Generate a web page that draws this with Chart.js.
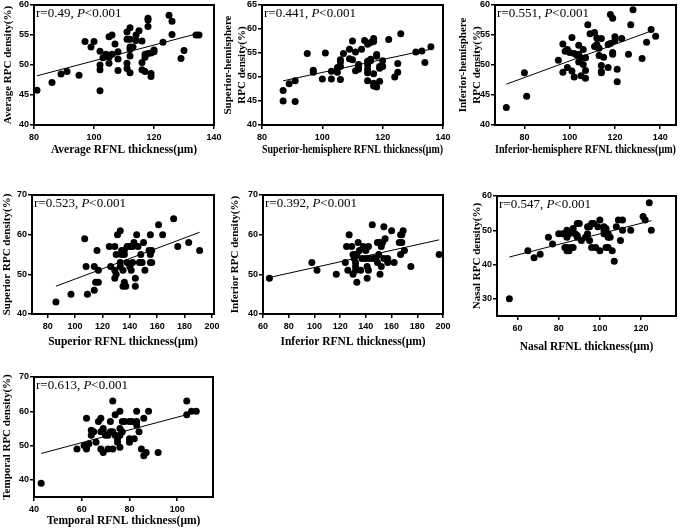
<!DOCTYPE html>
<html>
<head>
<meta charset="utf-8">
<script src="https://cdn.jsdelivr.net/npm/chart.js@4"></script>
<style>
  body { margin: 0; background: #fff; width: 685px; height: 529px; position: relative; overflow: hidden; }
  canvas { position: absolute; }
</style>
</head>
<body>
<script>
// ---- data: [thickness, density] ----
const avgPts = [[81,45.8],[86,47.1],[89,48.5],[91,48.9],[95,48.3],[97,53.9],[99,53.0],[100,53.9],[102,52.3],[102,50.0],[102,49.2],[102,45.7],[103,51.2],[104,51.8],[105,54.7],[105,51.3],[105,50.3],[106,55.0],[106,51.8],[107,53.5],[108,52.2],[108,51.0],[108,49.1],[111,55.5],[111,54.3],[111,50.3],[111,49.4],[112,56.2],[112,54.3],[112,53.0],[112,52.6],[112,51.5],[112,48.7],[113,53.0],[114,55.0],[114,54.1],[115,55.7],[116,54.0],[116,50.4],[116,49.2],[117,51.8],[117,51.3],[117,48.9],[118,57.8],[118,57.5],[118,56.4],[118,51.9],[119,52.0],[119,48.6],[119,48.1],[120,52.5],[120,52.2],[123,53.8],[125,58.3],[126,57.3],[126,55.1],[129,51.1],[130,52.4],[134,55.0],[135,55.0]];
const avgFit = [[81,48.2],[135,55.3]];

const supHemiPts = [[87,47.2],[87,45.0],[89,48.6],[91,49.2],[91,44.9],[95,54.9],[97,51.4],[97,51.0],[100,49.6],[101,55.0],[103,51.2],[103,49.6],[105,51.0],[105,52.0],[106,53.6],[106,53.1],[106,52.2],[106,49.5],[107,54.9],[109,55.8],[109,53.8],[110,57.5],[110,53.6],[111,55.2],[111,51.3],[112,52.6],[112,52.0],[112,51.6],[113,55.8],[114,57.6],[115,56.8],[115,53.3],[115,52.5],[115,51.6],[115,50.9],[115,49.2],[116,57.2],[116,53.7],[116,53.4],[117,58.0],[117,57.4],[117,50.7],[117,48.7],[117,48.1],[118,54.7],[118,54.3],[118,47.9],[119,52.2],[119,51.8],[119,49.1],[120,53.4],[120,52.2],[122,57.8],[124,50.0],[125,52.8],[125,51.0],[126,59.0],[131,55.2],[133,55.4],[134,53.0],[136,56.3]];
const supHemiFit = [[87,49.2],[136,55.8]];

const infHemiPts = [[72,42.9],[80,48.7],[81,44.8],[95,50.8],[97,53.5],[97,48.8],[98,52.3],[99,52.6],[99,49.6],[100,52.1],[101,54.6],[101,49.0],[102,51.9],[102,48.0],[103,51.7],[104,53.3],[104,51.8],[104,50.5],[105,51.2],[105,48.2],[106,52.6],[106,50.1],[107,51.2],[107,49.1],[107,47.8],[108,56.7],[109,55.2],[111,55.4],[111,53.1],[112,54.5],[112,53.4],[112,53.0],[113,51.6],[113,52.8],[114,54.4],[114,49.9],[114,48.9],[114,48.7],[115,51.3],[117,53.4],[117,49.6],[118,58.4],[118,53.6],[119,57.8],[119,52.1],[119,51.8],[120,54.7],[120,54.1],[121,49.3],[121,47.2],[123,54.4],[126,51.8],[127,56.7],[128,59.2],[132,51.1],[134,53.8],[136,55.9],[138,54.8]];
const infHemiFit = [[72,46.8],[137,55.8]];

const supPts = [[86,43],[97,45],[107,59],[108,52],[109,45],[114,46],[114,52],[115,48],[116,56],[117,51],[117,48],[125,57],[126,52],[129,57],[129,51],[129,49],[130,55],[130,50],[131,60],[133,61],[133,53],[133,52],[134,56],[134,55],[135,51],[135,47],[136,56],[136,55],[136,48],[137,47],[138,53],[138,57],[140,57],[140,52],[141,51],[142,53],[142,57],[143,58],[144,49],[144,47],[145,60],[146,57],[147,53],[148,55],[149,53],[150,58],[151,51],[154,56],[155,60],[155,55],[155,53],[156,53],[156,56],[161,62.5],[164,60],[172,64],[175,57],[183,58],[191,56]];
const supFit = [[86,47],[191,60.6]];

const infPts = [[65,49],[98,53],[102,51],[117,50],[124,53],[125,57],[126,51],[127,60],[129,57],[130,55],[130,50],[131,54],[132,55],[132,53],[132,52],[132,51],[133,48],[133,55],[134,58],[135,56],[136,51],[137,54],[138,57],[140,56],[140,54],[141,49],[141,52],[142,57],[142,51],[143,54],[145,62.5],[146,54],[148,54],[149,58],[149,53],[150,55],[151,58],[151,50],[152,57],[152,52],[153,58],[154,62],[154,54],[155,59],[157,53],[157,54],[160,61],[162,53],[166,58],[167,60],[167,55],[168,60],[168,58],[169,61],[170,56],[175,52],[197,55]];
const infFit = [[65,49.2],[197,58.7]];

const nasPts = [[56,30],[65,44],[68,42],[71,43],[75,48],[77,46],[80,49],[82,49],[83,45],[84,50],[84,48],[84,45],[84,44],[85,44],[85,49],[86,45],[87,50.5],[87,45],[88,49],[89,52],[89,48.5],[89,48],[90,52],[91,47],[93,48],[94,51],[94,49],[95,47],[95,51],[96,52],[96,45],[97,52],[98,45],[99,51],[100,53],[100,44],[102,51],[102,50],[102,49],[103,50.5],[103,45],[104,48],[104,45],[104,49],[105,48],[106,44],[107,41],[108,51],[109,53],[110,47],[111,53],[111,50],[115,50],[121,54],[122,53],[124,58],[125,50]];
const nasFit = [[56,42.2],[125,52.8]];

const tempPts = [[43,39],[58,49],[61,50],[62,58],[62,49.5],[62,49],[63,50.5],[64,54.5],[64,53],[65,54],[66,51],[67,57],[68,58],[68,54],[68,49],[69,55],[69,48],[69,54],[70,53],[71,49],[71,53],[72,54],[72,57],[73,63],[73,54],[73,49],[74,59],[74,53],[75,52],[75,51],[76,60],[76,55],[76,53],[76,49.5],[77,57],[77,54],[78,57],[80,57],[80,52],[80,51],[81,57],[82,52],[83,60],[83,57],[83,56],[84,54],[85,49],[86,58],[86,47],[87,48],[88,60],[92,48],[104,63],[104,59],[106,60],[108,60]];
const tempFit = [[43,47.7],[105,59.2]];

const rValues = ['0.49', '0.441', '0.551', '0.523', '0.392', '0.547', '0.613'];

const xTicks = [[80,100,120,140],[80,100,120,140],[80,100,120,140],[80,100,120,140,160,180,200],[60,80,100,120,140,160,180,200],[60,80,100,120],[40,60,80,100]];
const yTicks = [[40,45,50,55,60],[40,45,50,55,60,65],[40,45,50,55,60],[40,50,60,70],[40,50,60,70],[30,40,50,60],[40,50,60,70]];

// ---- layout of the seven panels ----
const panels = [
  { pts: avgPts, fit: avgFit, x: [80,140], y: [40,60], area: [34,5,214,125], yTitleX: 8, xTitleY: 150,
    xTitle: 'Average RFNL thickness(μm)', yTitle: 'Average RPC density(%)' },
  { pts: supHemiPts, fit: supHemiFit, x: [80,140], y: [40,65], area: [262,5,443,125], yTitleX: 228, xTitleY: 150,
    xTitle: 'Superior-hemisphere RFNL thickness(μm)', yTitle: ['Superior-hemisphere', 'RPC density(%)'] },
  { pts: infHemiPts, fit: infHemiFit, x: [67,147], y: [40,60], area: [495,5,676,125], yTitleX: 463, xTitleY: 150,
    xTitle: 'Inferior-hemisphere RFNL thickness(μm)', yTitle: ['Inferior-hemisphere', 'RPC density(%)'] },
  { pts: supPts, fit: supFit, x: [68.5,201.5], y: [40,70], area: [32,195,214,314], yTitleX: 7, xTitleY: 342,
    xTitle: 'Superior RFNL thickness(μm)', yTitle: 'Superior RPC density(%)' },
  { pts: infPts, fit: infFit, x: [60,200], y: [40,70], area: [263,195,443,314], yTitleX: 235, xTitleY: 342,
    xTitle: 'Inferior RFNL thickness(μm)', yTitle: 'Inferior RPC density(%)' },
  { pts: nasPts, fit: nasFit, x: [50,137], y: [25,60], area: [497,196,676,316], yTitleX: 477, xTitleY: 347,
    xTitle: 'Nasal RFNL thickness(μm)', yTitle: 'Nasal RPC density(%)' },
  { pts: tempPts, fit: tempFit, x: [40,115], y: [35,70], area: [34,377,213,497], yTitleX: 7, xTitleY: 521,
    xTitle: 'Temporal RFNL thickness(μm)', yTitle: 'Temporal RPC density(%)' }
];

const frame = {
  id: 'frame',
  afterDraw(chart, args, opts) {
    const { ctx, chartArea: a } = chart;
    ctx.save();
    ctx.strokeStyle = '#000';
    ctx.lineWidth = 2;
    ctx.strokeRect(a.left, a.top, a.right - a.left, a.bottom - a.top);
    // r / P annotation
    ctx.fillStyle = '#000';
    ctx.textBaseline = 'alphabetic';
    let x = a.left + 2;
    const y = a.top + 11.5;
    const parts = [['r=' + opts.r + ', ', ''], ['P', 'italic '], ['<0.001', '']];
    parts.forEach(([txt, style]) => {
      ctx.font = style + '13px "Liberation Serif"';
      ctx.fillText(txt, x, y);
      x += ctx.measureText(txt).width;
    });
    ctx.restore();
  }
};

const tickFont = { family: '"Liberation Sans"', size: 9, weight: 'bold' };

panels.forEach((p, i) => {
  const [l, t, r, b] = p.area;
  const left = p.yTitleX - 7;
  const top = t - 8;
  const width = r + 12 - left;
  const height = p.xTitleY + 7 - top;
  const yW = l - left;
  const xH = p.xTitleY + 7 - b;

  const canvas = document.createElement('canvas');
  canvas.width = width;
  canvas.height = height;
  canvas.style.left = left + 'px';
  canvas.style.top = top + 'px';
  document.body.appendChild(canvas);

  new Chart(canvas, {
    type: 'scatter',
    data: {
      datasets: [
        { data: p.pts.map(([x, y]) => ({ x, y })), pointRadius: 3.5, pointHoverRadius: 3.5,
          backgroundColor: '#000', borderWidth: 0 },
        { type: 'line', data: p.fit.map(([x, y]) => ({ x, y })), borderColor: '#000', borderWidth: 1,
          pointRadius: 0, fill: false }
      ]
    },
    options: {
      responsive: false,
      animation: false,
      devicePixelRatio: 1,
      layout: { padding: { top: 8, right: 12, left: 0, bottom: 0 } },
      plugins: { legend: { display: false }, tooltip: { enabled: false }, frame: { r: rValues[i] } },
      scales: {
        x: {
          type: 'linear', min: p.x[0], max: p.x[1],
          afterBuildTicks: s => { s.ticks = xTicks[i].map(v => ({ value: v })); },
          afterFit: s => { s.height = xH; },
          grid: { drawOnChartArea: false, drawTicks: true, tickLength: 4, color: '#000', lineWidth: 1.5 },
          border: { display: false },
          ticks: { font: tickFont, color: '#000', padding: 3, maxRotation: 0 },
          title: { display: true, text: p.xTitle, color: '#000', padding: 0,
            font: { family: '"Liberation Serif"', size: 11.5, weight: 'bold', lineHeight: '14px' } }
        },
        y: {
          type: 'linear', min: p.y[0], max: p.y[1],
          afterBuildTicks: s => { s.ticks = yTicks[i].map(v => ({ value: v })); },
          afterFit: s => { s.width = yW; },
          grid: { drawOnChartArea: false, drawTicks: true, tickLength: 4, color: '#000', lineWidth: 1.5 },
          border: { display: false },
          ticks: { font: tickFont, color: '#000', padding: 1 },
          title: { display: true, text: p.yTitle, color: '#000', padding: 0,
            font: { family: '"Liberation Serif"', size: 11, weight: 'bold', lineHeight: '14px' } }
        }
      }
    },
    plugins: [frame]
  });
});
</script>
</body>
</html>
